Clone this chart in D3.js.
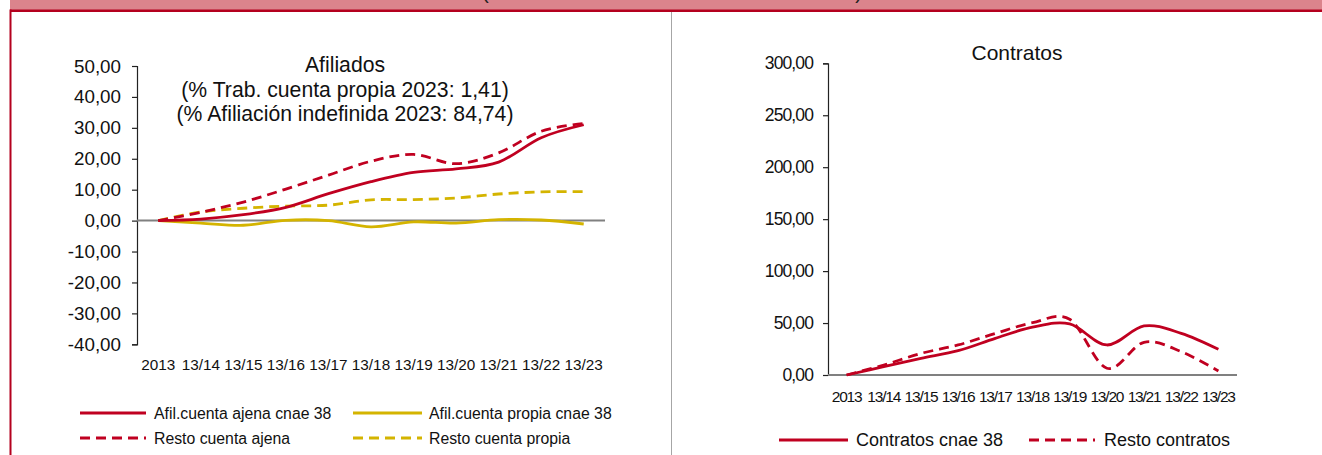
<!DOCTYPE html>
<html>
<head>
<meta charset="utf-8">
<script src="https://cdn.jsdelivr.net/npm/d3@7"></script>
<style>
  html, body { margin: 0; padding: 0; background: #fff; }
  svg { display: block; font-family: Arial, "Liberation Sans", sans-serif; }
</style>
</head>
<body>
<svg id="chart" width="1322" height="455"></svg>
<script>
// ---------- DATA ----------
const categories = ["2013","13/14","13/15","13/16","13/17","13/18","13/19","13/20","13/21","13/22","13/23"];

const afilAjena   = [0, 0.5, 1.9, 4.3, 8.7, 12.6, 15.6, 16.7, 18.9, 26.8, 31.0];
const restoAjena  = [0, 2.7, 6.0, 10.2, 14.7, 19.2, 21.4, 18.4, 21.9, 28.9, 31.4];
const afilPropia  = [0, -0.8, -1.5, 0.1, 0.0, -2.0, -0.4, -0.8, 0.3, 0.2, -1.1];
const restoPropia = [0, 2.8, 4.0, 4.7, 5.0, 6.7, 6.8, 7.3, 8.6, 9.3, 9.4];

const contratos      = [0, 8.0, 16.0, 23.4, 35.3, 46.0, 49.1, 28.9, 47.2, 40.1, 24.7];
const restoContratos = [0, 9.6, 20.8, 28.9, 40.0, 50.3, 53.6, 6.5, 31.5, 22.5, 3.8];

const leftTicks  = [-40, -30, -20, -10, 0, 10, 20, 30, 40, 50];
const rightTicks = [0, 50, 100, 150, 200, 250, 300];

const headerText = "(Variación acumulada sobre 2013)";
const leftTitle = ["Afiliados", "(% Trab. cuenta propia 2023: 1,41)", "(% Afiliación indefinida 2023: 84,74)"];
const rightTitle = "Contratos";

const leftSeries = [
  { name: "Afil.cuenta ajena cnae 38",  values: afilAjena,   color: "#C00020", dash: null },
  { name: "Afil.cuenta propia cnae 38", values: afilPropia,  color: "#D4B400", dash: null },
  { name: "Resto cuenta ajena",         values: restoAjena,  color: "#C00020", dash: "10,6" },
  { name: "Resto cuenta propia",        values: restoPropia, color: "#D4B400", dash: "10,6" }
];
const rightSeries = [
  { name: "Contratos cnae 38", values: contratos,      color: "#C00020", dash: null },
  { name: "Resto contratos",   values: restoContratos, color: "#C00020", dash: "10,6" }
];

// ---------- SETUP ----------
const svg = d3.select("#chart");
const loc = d3.formatLocale({ decimal: ",", thousands: ".", grouping: [3], currency: ["", "€"], minus: "-" });
const fmt = loc.format(".2f");

// header / frame
svg.append("rect").attr("x", 10).attr("y", 0).attr("width", 1312).attr("height", 10).attr("fill", "#DB848C");
svg.append("text").attr("x", 672).attr("y", -1).attr("text-anchor", "middle")
  .attr("font-size", 20).attr("fill", "#222")
  .attr("textLength", 380).attr("lengthAdjust", "spacing").text(headerText);
svg.append("rect").attr("x", 10).attr("y", 9.5).attr("width", 1312).attr("height", 2.5).attr("fill", "#B4001E");
svg.append("rect").attr("x", 9.5).attr("y", 9.5).attr("width", 2).attr("height", 446).attr("fill", "#B4001E");
svg.append("line").attr("x1", 671.5).attr("x2", 671.5).attr("y1", 12).attr("y2", 455)
  .attr("stroke", "#A6A6A6").attr("stroke-width", 1);

const curve = d3.curveCardinal.tension(0);

// ---------- LEFT CHART ----------
{
  const x = d3.scalePoint().domain(categories).range([137, 605]).padding(0.5);
  const y = d3.scaleLinear().domain([-40, 50]).range([344.3, 66]);

  const yAxis = d3.axisLeft(y).tickValues(leftTicks).tickFormat(fmt).tickSizeOuter(0).tickSize(5).tickPadding(11);
  const gy = svg.append("g").attr("transform", "translate(137,0)").call(yAxis);
  gy.select(".domain").attr("stroke", "#222").attr("stroke-width", 1.2);
  gy.selectAll(".tick line").attr("stroke", "#222").attr("stroke-width", 1.2);
  gy.selectAll(".tick text").attr("font-size", 18.8).attr("fill", "#111").attr("font-family", "Arial, 'Liberation Sans', sans-serif");

  // zero line
  svg.append("line").attr("x1", 137).attr("x2", 605).attr("y1", y(0)).attr("y2", y(0))
    .attr("stroke", "#808080").attr("stroke-width", 2);

  // category labels
  svg.append("g").selectAll("text").data(categories).join("text")
    .attr("x", d => x(d)).attr("y", 365).attr("dy", "0.35em").attr("text-anchor", "middle")
    .attr("font-size", 15.3).attr("fill", "#111").text(d => d);

  // lines
  const line = d3.line().x((d, i) => x(categories[i])).y(d => y(d)).curve(curve);
  const order = [1, 3, 0, 2];
  order.forEach(k => {
    const s = leftSeries[k];
    svg.append("path").attr("d", line(s.values)).attr("fill", "none")
      .attr("stroke", s.color).attr("stroke-width", 2.8)
      .attr("stroke-dasharray", s.dash);
  });

  // title
  const tt = svg.append("text").attr("x", 345).attr("text-anchor", "middle").attr("font-size", 21.2).attr("fill", "#111");
  [72, 96.5, 121].forEach((yy, i) => {
    tt.append("tspan").attr("x", 345).attr("y", yy).text(leftTitle[i]);
  });

  // legend
  const legPos = [
    { x1: 80, x2: 146, tx: 154, y: 413 },
    { x1: 353, x2: 422, tx: 429, y: 413 },
    { x1: 80, x2: 146, tx: 154, y: 438 },
    { x1: 353, x2: 422, tx: 429, y: 438 }
  ];
  leftSeries.forEach((s, i) => {
    const p = legPos[i];
    svg.append("line").attr("x1", p.x1).attr("x2", p.x2).attr("y1", p.y).attr("y2", p.y)
      .attr("stroke", s.color).attr("stroke-width", 2.8).attr("stroke-dasharray", s.dash);
    svg.append("text").attr("x", p.tx).attr("y", p.y).attr("dy", "0.35em")
      .attr("font-size", 15.8).attr("fill", "#111").text(s.name);
  });
}

// ---------- RIGHT CHART ----------
{
  const x = d3.scalePoint().domain(categories).range([828, 1237]).padding(0.5);
  const y = d3.scaleLinear().domain([0, 300]).range([375, 63.3]);

  const yAxis = d3.axisLeft(y).tickValues(rightTicks).tickFormat(fmt).tickSizeOuter(0).tickSize(5).tickPadding(10);
  const gy = svg.append("g").attr("transform", "translate(828,0)").call(yAxis);
  gy.select(".domain").attr("stroke", "#222").attr("stroke-width", 1.2);
  gy.selectAll(".tick text").attr("font-size", 17.5).attr("letter-spacing", "-0.9px").attr("fill", "#111")
    .attr("font-family", "Arial, 'Liberation Sans', sans-serif");
  gy.selectAll(".tick line").attr("stroke", "#222").attr("stroke-width", 1.2);

  svg.append("line").attr("x1", 828).attr("x2", 1237).attr("y1", y(0)).attr("y2", y(0))
    .attr("stroke", "#808080").attr("stroke-width", 2);

  svg.append("g").selectAll("text").data(categories).join("text")
    .attr("x", d => x(d)).attr("y", 396.5).attr("dy", "0.35em").attr("text-anchor", "middle")
    .attr("font-size", 15.5).attr("letter-spacing", "-1.2px").attr("fill", "#111").text(d => d);

  const line = d3.line().x((d, i) => x(categories[i])).y(d => y(d)).curve(curve);
  rightSeries.forEach(s => {
    svg.append("path").attr("d", line(s.values)).attr("fill", "none")
      .attr("stroke", s.color).attr("stroke-width", 2.8)
      .attr("stroke-dasharray", s.dash);
  });

  svg.append("text").attr("x", 1017).attr("y", 60).attr("text-anchor", "middle")
    .attr("font-size", 21).attr("fill", "#111").text(rightTitle);

  const legPos = [
    { x1: 779, x2: 848, tx: 856, y: 440 },
    { x1: 1029, x2: 1095, tx: 1104, y: 440 }
  ];
  rightSeries.forEach((s, i) => {
    const p = legPos[i];
    svg.append("line").attr("x1", p.x1).attr("x2", p.x2).attr("y1", p.y).attr("y2", p.y)
      .attr("stroke", s.color).attr("stroke-width", 2.8).attr("stroke-dasharray", s.dash);
    svg.append("text").attr("x", p.tx).attr("y", p.y).attr("dy", "0.35em")
      .attr("font-size", 18).attr("fill", "#111").text(s.name);
  });
}
</script>
</body>
</html>
